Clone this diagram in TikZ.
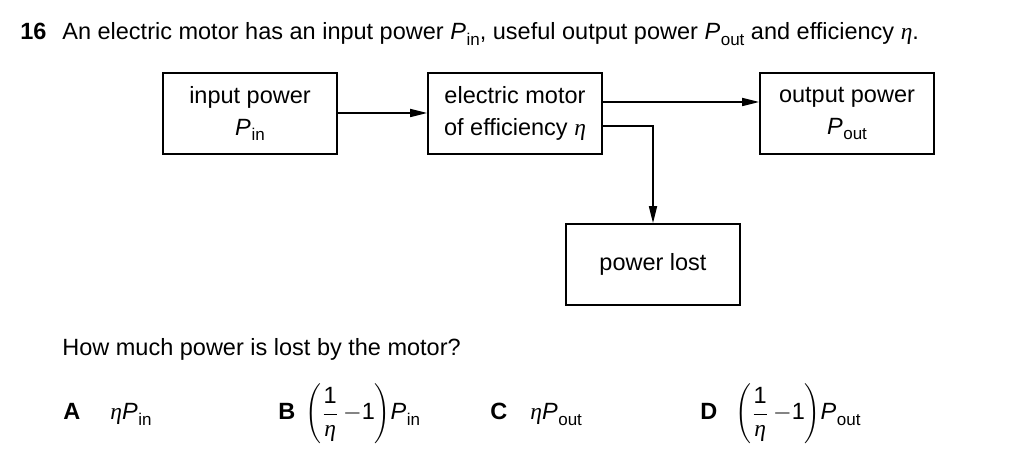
\documentclass[tikz,border=0pt]{standalone}
\usepackage{fontspec}
\setmainfont{Liberation Sans}
\newfontfamily\serifeta{Liberation Serif}
\usetikzlibrary{arrows.meta}
\newcommand\myeta{{\serifeta\itshape η}}
\newcommand\Ps[1]{\textit{P}\kern0.3pt\raisebox{-0.45ex}{\fontsize{8.5}{10}\selectfont #1}}
\newcommand\bigfrac[1]{$\displaystyle\Biggl(\frac{\mbox{1}}{\mbox{\myeta}}\,{-}\mbox{1}\Biggr)$\Ps{#1}}
\begin{document}
\begin{tikzpicture}[x=0.5pt,y=-0.5pt,
  every node/.style={font=\fontsize{11.75}{16}\selectfont, inner sep=0pt},
  box/.style={draw, line width=0.8pt, minimum width=87pt, minimum height=40.5pt, align=center},
  conn/.style={line width=0.85pt, -{Triangle[length=8.5pt,width=4pt]}},
  txt/.style={anchor=base west}]
\useasboundingbox (0,0) rectangle (1024,475);
% title
\node[txt] (num) at (20,40) {\textbf{16}};
\node[txt] (title) at (62,40) {An electric motor has an input power \Ps{in}, useful output power \Ps{out} and efficiency \myeta.};
% boxes
\node[box] (in) at (250,113.5) {input power\\\Ps{in}};
\node[box] (mot) at (515,113.5) {electric motor\\of efficiency \myeta};
\node[box] (out) at (847,113.5) {output power\\\Ps{out}};
\node[box] (lost) at (653,264.5) {power lost};
% connectors
\draw[conn] (in.east |- 0,113) -- (mot.west |- 0,113);
\draw[conn] (mot.east |- 0,102) -- (out.west |- 0,102);
\draw[conn] (mot.east |- 0,126) -| (lost.north);
% question
\node[txt] (q) at (62,356) {How much power is lost by the motor?};
\node[txt] (la) at (63,420) {\textbf{A}};
\node[txt] (oa) at (110,420) {\myeta\Ps{in}};
\node[txt] (lb) at (278,420) {\textbf{B}};
\node[txt] (ob) at (305,420) {\bigfrac{in}};
\node[txt] (lc) at (490,420) {\textbf{C}};
\node[txt] (oc) at (530,420) {\myeta\Ps{out}};
\node[txt] (ld) at (700,420) {\textbf{D}};
\node[txt] (od) at (735,420) {\bigfrac{out}};
\end{tikzpicture}
\end{document}
